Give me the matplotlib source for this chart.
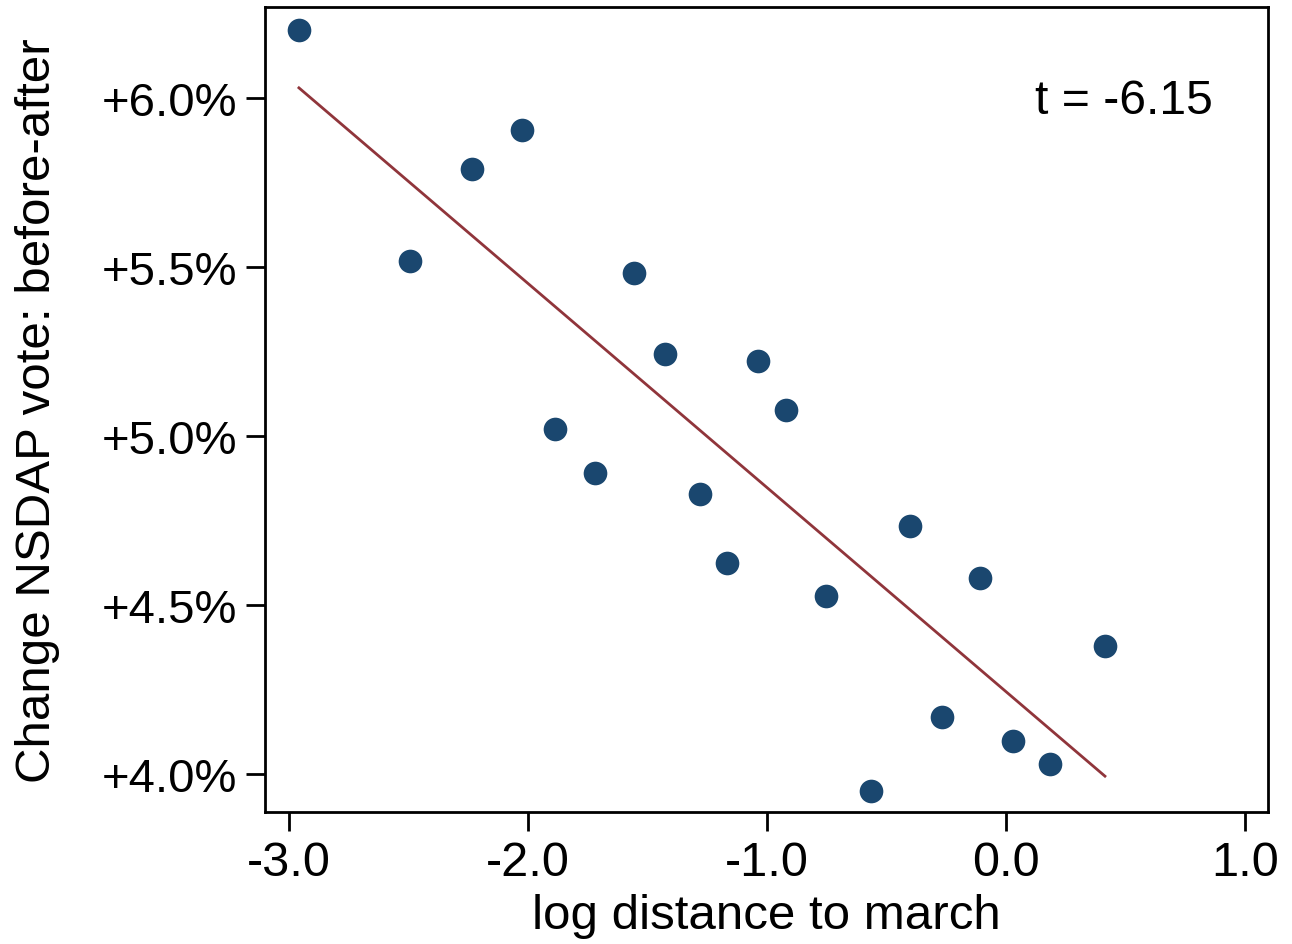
import numpy as np
import matplotlib.pyplot as plt

# log distance to march and vote change (percentage points)
log_dist = [-2.958, -2.494, -2.234, -2.025, -1.887, -1.720, -1.556, -1.427, -1.280, -1.167,
            -1.038, -0.921, -0.753, -0.565, -0.402, -0.268, -0.109, 0.029, 0.184, 0.414]
vote_change = [6.201, 5.518, 5.790, 5.905, 5.021, 4.891, 5.482, 5.243, 4.828, 4.624,
               5.222, 5.077, 4.527, 3.950, 4.734, 4.169, 4.580, 4.098, 4.030, 4.379]
x_ticks = [-3.0, -2.0, -1.0, 0.0, 1.0]
y_ticks = [4.0, 4.5, 5.0, 5.5, 6.0]
t_label = "t = -6.15"

plt.rcParams['font.family'] = ['Liberation Sans', 'DejaVu Sans']

fig = plt.figure(figsize=(12.92, 9.45), dpi=100)
ax = fig.add_axes([0.2051, 0.1397, 0.7763, 0.8518])

x = np.array(log_dist)
y = np.array(vote_change)
ax.scatter(x, y, s=290, color='#1a476f', zorder=3, linewidths=0)

# linear fit
b, a = np.polyfit(x, y, 1)
xs = np.array([x.min(), x.max()])
ax.plot(xs, a + b * xs, color='#90353b', lw=2, zorder=2)

ax.set_xlim(-3.100, 1.096)
ax.set_ylim(3.888, 6.269)
ax.set_xticks(x_ticks)
ax.set_xticklabels(['%.1f' % v for v in x_ticks])
ax.set_yticks(y_ticks)
ax.set_yticklabels(['+%.1f%%' % v for v in y_ticks])
ax.tick_params(length=14, width=2, pad=6)
ax.tick_params(axis='x', labelsize=35)
ax.tick_params(axis='y', labelsize=34)

for s in ax.spines.values():
    s.set_linewidth(2)

ax.set_xlabel('log distance to march', fontsize=35.5, labelpad=6)
ax.set_ylabel('Change NSDAP vote: before-after', fontsize=35.5, labelpad=30)

ax.text(0.945, 0.8845, t_label, transform=ax.transAxes, ha='right', va='center', fontsize=34.7)

fig.savefig('out.png', dpi=100)
